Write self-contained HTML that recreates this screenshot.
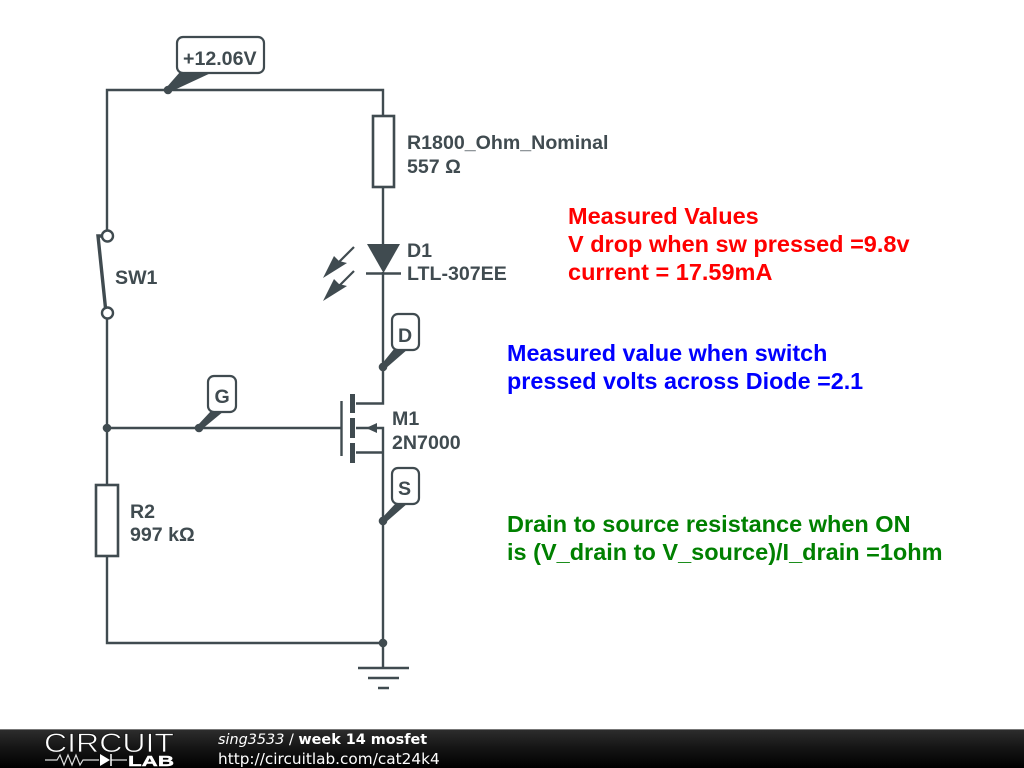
<!DOCTYPE html>
<html><head><meta charset="utf-8"><style>
html,body{margin:0;padding:0;background:#fff;width:1024px;height:768px;overflow:hidden}
svg{display:block}
</style></head><body>
<svg width="1024" height="768" viewBox="0 0 1024 768" xmlns="http://www.w3.org/2000/svg">
<defs>
<linearGradient id="bar" x1="0" y1="0" x2="0" y2="1"><stop offset="0" stop-color="#2e2e2e"/><stop offset="0.5" stop-color="#141414"/><stop offset="1" stop-color="#000"/></linearGradient>
</defs>
<rect width="1024" height="768" fill="#fff"/>
<g fill="none" stroke="#404b50" stroke-width="2.4">
<!-- wires -->
<path d="M107 231V90H383V116M383 187V244M383 272V403.500H356"/>
<path d="M107 319V484M107 556V643H383V428H356M107 428H341M356 452.500H383"/>
<path d="M383 643V667"/>
<!-- resistor bodies -->
<rect x="373" y="116" width="21" height="71" stroke-width="2.6" fill="#fff"/>
<rect x="96" y="485" width="22" height="71" stroke-width="2.6" fill="#fff"/>
<!-- switch -->
<circle cx="107.500" cy="236" r="5.500" fill="#fff" stroke-width="2.400"/>
<circle cx="107.500" cy="313" r="5.500" fill="#fff" stroke-width="2.400"/>
<path d="M102 236H98L105.500 308" stroke-width="3.400"/>
<!-- diode bar -->
<path d="M366 273.500H401" stroke-width="2.400"/>
<!-- LED arrows -->
<path d="M354 247L338 263M354 271L338 287" stroke-width="2.200"/>
<!-- mosfet -->
<path d="M341.500 401V456" stroke-width="2.400"/>
<path d="M352.500 394V413M352.500 418V438M352.500 443V463" stroke-width="5"/>
<!-- ground -->
<path d="M358 668H409M368 678H399M378 688H389" stroke-width="2.600"/>
</g>
<g fill="#404b50">
<polygon points="367,244 400,244 383.500,273"/>
<polygon points="323,278 334,256 339,261 347,263"/>
<polygon points="323,301 334,279 339,284 347,286"/>
<polygon points="366,428 377,423 377,433"/>
<!-- junction dots -->
<circle cx="107" cy="428" r="4.300"/>
<circle cx="383" cy="643" r="4.300"/>
<!-- callout tails -->
<circle cx="168" cy="90" r="4.300"/>
<polygon points="166,88 180,72 213,72 170,92"/>
<circle cx="383" cy="367" r="4.300"/>
<polygon points="381,365 394,349 408,349 385,369"/>
<circle cx="199" cy="428" r="4.300"/>
<polygon points="197,426 211,411 224,411 201,430"/>
<circle cx="383" cy="521" r="4.300"/>
<polygon points="381,519 396,503 408,503 385,523"/>
</g>
<!-- callout boxes -->
<g fill="#fff" stroke="#404b50" stroke-width="2.200">
<rect x="177" y="37" width="87" height="36" rx="6"/>
<rect x="392" y="314" width="27" height="36" rx="6"/>
<rect x="208" y="376" width="28" height="36" rx="6"/>
<rect x="392" y="468" width="27" height="36" rx="6"/>
</g>
<g font-family="'Liberation Sans',sans-serif" font-size="19.600" font-weight="bold" fill="#404b50">
<text x="183" y="65">+12.06V</text>
<text x="398" y="342">D</text>
<text x="214.500" y="403">G</text>
<text x="398" y="495">S</text>
<text x="407" y="149">R1800_Ohm_Nominal</text>
<text x="407" y="173">557 Ω</text>
<text x="407" y="257">D1</text>
<text x="407" y="280">LTL-307EE</text>
<text x="115" y="284">SW1</text>
<text x="392" y="425">M1</text>
<text x="392" y="449">2N7000</text>
<text x="130" y="518">R2</text>
<text x="130" y="541">997 kΩ</text>
</g>
<g font-family="'Liberation Sans',sans-serif" font-size="23.500" font-weight="bold">
<g fill="#ff0000">
<text x="568" y="224">Measured Values</text>
<text x="568" y="252">V drop when sw pressed =9.8v</text>
<text x="568" y="280">current = 17.59mA</text>
</g>
<g fill="#0000ff" font-size="23.350">
<text x="507" y="361">Measured value when switch</text>
<text x="507" y="389">pressed volts across Diode =2.1</text>
</g>
<g fill="#008000">
<text x="507" y="532">Drain to source resistance when ON</text>
<text x="507" y="560">is (V_drain to V_source)/I_drain =1ohm</text>
</g>
</g>
<!-- footer -->
<rect x="0" y="729" width="1024" height="39" fill="url(#bar)"/>
<rect x="0" y="729" width="1024" height="1" fill="#777"/>
<text x="44" y="752" font-family="'Liberation Sans',sans-serif" font-size="26.500" fill="#fff" stroke="#141414" stroke-width="0.7" textLength="130" lengthAdjust="spacingAndGlyphs">CIRCUIT</text>
<g fill="none" stroke="#ddd" stroke-width="1.200">
<path d="M45 760H57L60 755L64 765L68 755L72 765L76 755L80 765L83 760H99M111 760H127"/>
<path d="M111 754V766" stroke="#fff" stroke-width="1.500"/>
</g>
<polygon points="100,754 100,766 110,760" fill="#fff"/>
<text x="128" y="766" font-family="'Liberation Sans',sans-serif" font-size="15" font-weight="bold" fill="#fff" stroke="#fff" stroke-width="0.4" textLength="46" lengthAdjust="spacingAndGlyphs">LAB</text>
<g font-family="'DejaVu Sans',sans-serif" fill="#fff">
<text x="218" y="744" font-size="14.400"><tspan font-style="italic">sing3533</tspan> / <tspan font-weight="bold">week 14 mosfet</tspan></text>
<text x="218" y="764" font-size="15.300">http://circuitlab.com/cat24k4</text>
</g>
</svg>
</body></html>
